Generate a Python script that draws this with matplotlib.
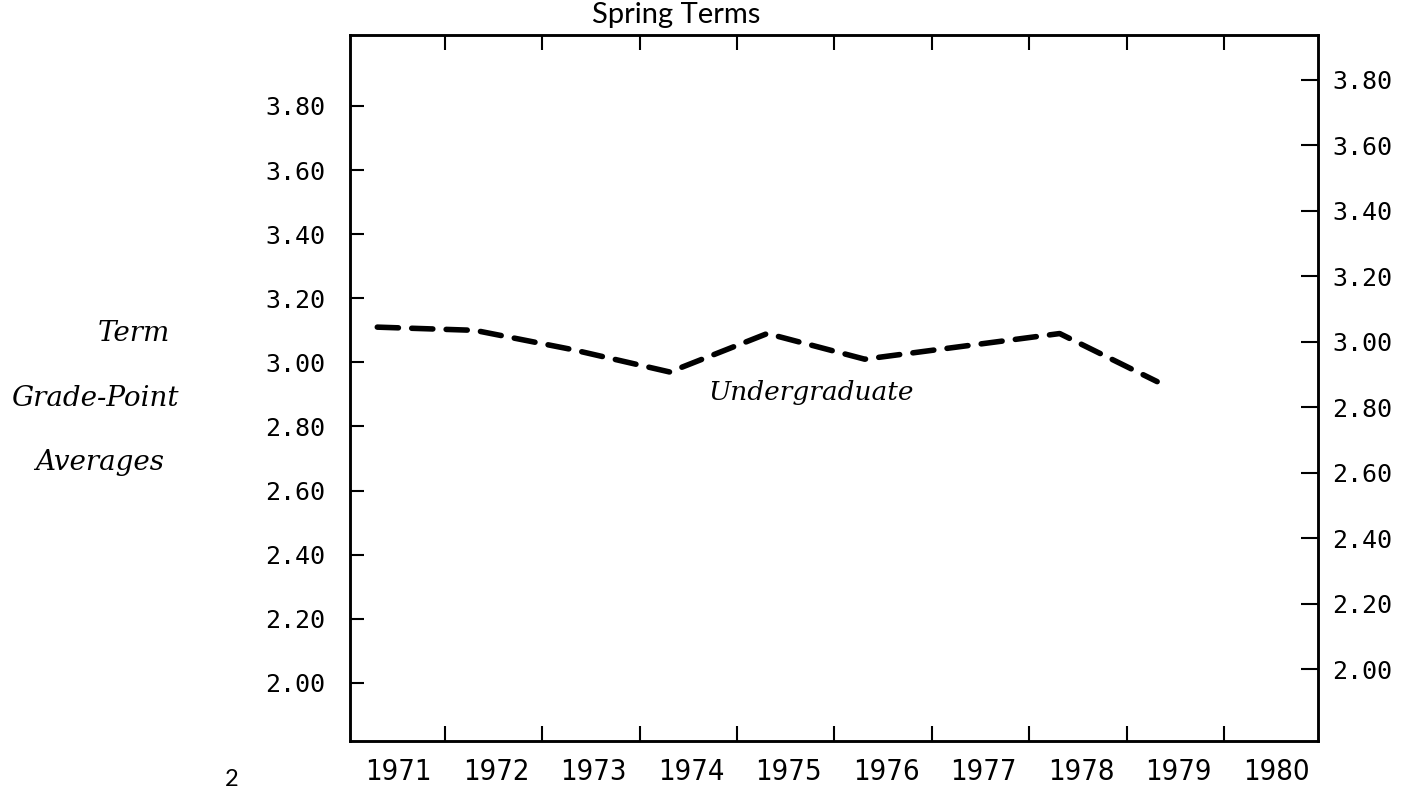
import matplotlib.pyplot as plt

# spring-term undergraduate GPA
years = [1971, 1972, 1973, 1974, 1975, 1976, 1977, 1978, 1979]
gpa = [3.11, 3.10, 3.04, 2.97, 3.09, 3.01, 3.05, 3.09, 2.94]

year_labels = ['1971', '1972', '1973', '1974', '1975', '1976', '1977', '1978', '1979', '1980']
gpa_ticks = [2.00, 2.20, 2.40, 2.60, 2.80, 3.00, 3.20, 3.40, 3.60, 3.80]

W, H = 1414, 793
fig = plt.figure(figsize=(W / 100, H / 100), dpi=100)
ax = fig.add_axes([350 / W, 1 - 741 / H, 968 / W, 706 / H])

ax.plot(years, gpa, color='black', lw=4, linestyle=(0, (3.8, 2.4)),
        dash_capstyle='round')

ax.set_xlim(1970.72, 1980.65)
ax.set_ylim(1.8187, 4.0215)

# year labels sit in the intervals, tick marks between them
ax.set_xticks([int(y) + 0.22 for y in year_labels])
ax.set_xticklabels(year_labels, family='DejaVu Sans', stretch='condensed', fontsize=21)
ax.set_xticks([y + 0.69 for y in years], minor=True)
ax.tick_params(axis='x', which='major', length=0, pad=12)
ax.tick_params(axis='x', which='minor', direction='in', length=11, width=1.5,
               top=True, bottom=True)

ax.set_yticks(gpa_ticks)
ax.set_yticklabels(['%.2f' % v for v in gpa_ticks], family='DejaVu Sans Mono', fontsize=18)
ax.tick_params(axis='y', direction='in', length=10, width=1.5, pad=18)

ax2 = ax.twinx()
ax2.set_ylim(1.780, 3.9375)
ax2.set_yticks(gpa_ticks)
ax2.set_yticklabels(['%.2f' % v for v in gpa_ticks], family='DejaVu Sans Mono', fontsize=18)
ax2.tick_params(axis='y', direction='in', length=12, width=1.5, pad=10)

for a in (ax, ax2):
    for s in a.spines.values():
        s.set_linewidth(1.8)

ax.text(1975.45, 2.905, 'Undergraduate', style='italic', family='DejaVu Serif',
        fontsize=19, ha='center', va='center')

fig.text(676 / W, 1 - 15 / H, 'Spring Terms', family=['Lato', 'DejaVu Sans'],
         fontsize=21, ha='center', va='center')
fig.text(134 / W, 1 - 333 / H, 'Term', style='italic', family='DejaVu Serif',
         fontsize=20, ha='center', va='center')
fig.text(95 / W, 1 - 398 / H, 'Grade-Point', style='italic', family='DejaVu Serif',
         fontsize=20, ha='center', va='center')
fig.text(100 / W, 1 - 463 / H, 'Averages', style='italic', family='DejaVu Serif',
         fontsize=20, ha='center', va='center')
fig.text(232 / W, 1 - 780 / H, '2', family=['Lato', 'DejaVu Sans'],
         fontsize=17, ha='center', va='center')

fig.savefig('out.png', dpi=100)
